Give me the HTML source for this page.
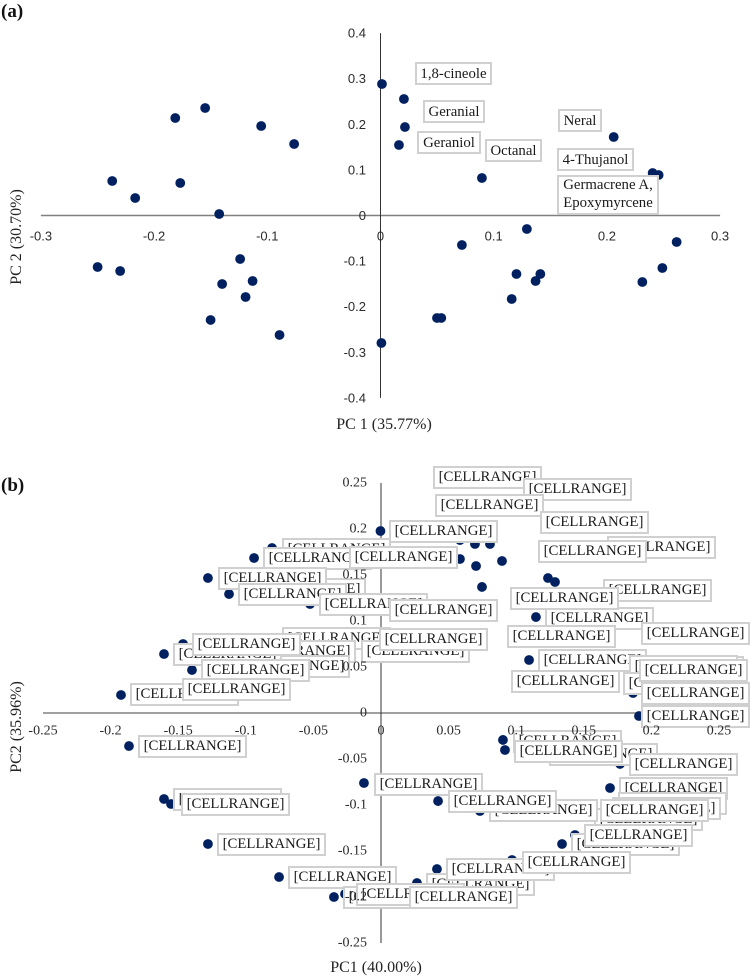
<!DOCTYPE html>
<html lang="en">
<head>
<meta charset="utf-8">
<title>PCA score plots</title>
<style>
html,body{margin:0;padding:0;background:#fff}
#page{position:relative;width:751px;height:977px;overflow:hidden;background:#fff;font-family:"Liberation Serif",serif}
svg{position:absolute;left:0;top:0}
#marks{z-index:1}
#labels{position:absolute;left:0;top:0;width:751px;height:977px;z-index:2}
#overlay{z-index:3}
.lb{position:absolute;box-sizing:border-box;width:109px;height:23px;background:#fff;border:2px solid #d0d0d0;font-size:14.8px;line-height:19px;text-align:center;color:#1a1a1a;white-space:nowrap;overflow:hidden}
.n{position:absolute;box-sizing:border-box;background:#fff;border:2px solid #d0d0d0;font-size:14.8px;line-height:20px;text-align:center;color:#1a1a1a;white-space:nowrap}
</style>
</head>
<body>
<div id="page">
<svg id="marks" width="751" height="977"></svg>
<div id="labels">
<div class="n" style="left:415px;top:62px;width:77px;height:23px">1,8-cineole</div>
<div class="n" style="left:423px;top:100px;width:62px;height:23px">Geranial</div>
<div class="n" style="left:417px;top:131px;width:64px;height:23px">Geraniol</div>
<div class="n" style="left:485px;top:139px;width:57px;height:23px">Octanal</div>
<div class="n" style="left:558px;top:109px;width:44px;height:23px">Neral</div>
<div class="n" style="left:557px;top:148px;width:77px;height:23px">4-Thujanol</div>
<div class="n" style="left:557px;top:175px;width:102px;height:40px;line-height:17.5px">Germacrene A,<br>Epoxymyrcene</div>

<div class="lb" style="left:433px;top:466px">[CELLRANGE]</div>
<div class="lb" style="left:523px;top:478px">[CELLRANGE]</div>
<div class="lb" style="left:435px;top:494px">[CELLRANGE]</div>
<div class="lb" style="left:540px;top:511px">[CELLRANGE]</div>
<div class="lb" style="left:607px;top:536px">[CELLRANGE]</div>
<div class="lb" style="left:538px;top:540px">[CELLRANGE]</div>
<div class="lb" style="left:389px;top:520px">[CELLRANGE]</div>
<div class="lb" style="left:282px;top:538px">[CELLRANGE]</div>
<div class="lb" style="left:263px;top:547px">[CELLRANGE]</div>
<div class="lb" style="left:349px;top:546px">[CELLRANGE]</div>
<div class="lb" style="left:257px;top:578px">[CELLRANGE]</div>
<div class="lb" style="left:218px;top:567px">[CELLRANGE]</div>
<div class="lb" style="left:238px;top:583px">[CELLRANGE]</div>
<div class="lb" style="left:319px;top:593px">[CELLRANGE]</div>
<div class="lb" style="left:389px;top:599px">[CELLRANGE]</div>
<div class="lb" style="left:282px;top:627px">[CELLRANGE]</div>
<div class="lb" style="left:361px;top:640px">[CELLRANGE]</div>
<div class="lb" style="left:379px;top:628px">[CELLRANGE]</div>
<div class="lb" style="left:603px;top:579px">[CELLRANGE]</div>
<div class="lb" style="left:545px;top:607px">[CELLRANGE]</div>
<div class="lb" style="left:510px;top:587px">[CELLRANGE]</div>
<div class="lb" style="left:641px;top:622px">[CELLRANGE]</div>
<div class="lb" style="left:507px;top:625px">[CELLRANGE]</div>
<div class="lb" style="left:538px;top:649px">[CELLRANGE]</div>
<div class="lb" style="left:635px;top:656px">[CELLRANGE]</div>
<div class="lb" style="left:629px;top:655px">[CELLRANGE]</div>
<div class="lb" style="left:623px;top:672px">[CELLRANGE]</div>
<div class="lb" style="left:511px;top:670px">[CELLRANGE]</div>
<div class="lb" style="left:639px;top:659px">[CELLRANGE]</div>
<div class="lb" style="left:641px;top:682px">[CELLRANGE]</div>
<div class="lb" style="left:641px;top:705px">[CELLRANGE]</div>
<div class="lb" style="left:247px;top:640px">[CELLRANGE]</div>
<div class="lb" style="left:241px;top:655px">[CELLRANGE]</div>
<div class="lb" style="left:173px;top:643px">[CELLRANGE]</div>
<div class="lb" style="left:192px;top:633px">[CELLRANGE]</div>
<div class="lb" style="left:201px;top:659px">[CELLRANGE]</div>
<div class="lb" style="left:130px;top:683px">[CELLRANGE]</div>
<div class="lb" style="left:182px;top:678px">[CELLRANGE]</div>
<div class="lb" style="left:138px;top:735px">[CELLRANGE]</div>
<div class="lb" style="left:173px;top:788px">[CELLRANGE]</div>
<div class="lb" style="left:181px;top:793px">[CELLRANGE]</div>
<div class="lb" style="left:217px;top:833px">[CELLRANGE]</div>
<div class="lb" style="left:549px;top:743px">[CELLRANGE]</div>
<div class="lb" style="left:513px;top:730px">[CELLRANGE]</div>
<div class="lb" style="left:514px;top:740px">[CELLRANGE]</div>
<div class="lb" style="left:629px;top:753px">[CELLRANGE]</div>
<div class="lb" style="left:619px;top:777px">[CELLRANGE]</div>
<div class="lb" style="left:618px;top:792px">[CELLRANGE]</div>
<div class="lb" style="left:612px;top:797px">[CELLRANGE]</div>
<div class="lb" style="left:594px;top:808px">[CELLRANGE]</div>
<div class="lb" style="left:600px;top:799px">[CELLRANGE]</div>
<div class="lb" style="left:571px;top:833px">[CELLRANGE]</div>
<div class="lb" style="left:584px;top:824px">[CELLRANGE]</div>
<div class="lb" style="left:374px;top:773px">[CELLRANGE]</div>
<div class="lb" style="left:489px;top:799px">[CELLRANGE]</div>
<div class="lb" style="left:448px;top:790px">[CELLRANGE]</div>
<div class="lb" style="left:426px;top:873px">[CELLRANGE]</div>
<div class="lb" style="left:446px;top:858px">[CELLRANGE]</div>
<div class="lb" style="left:522px;top:851px">[CELLRANGE]</div>
<div class="lb" style="left:288px;top:866px">[CELLRANGE]</div>
<div class="lb" style="left:343px;top:886px">[CELLRANGE]</div>
<div class="lb" style="left:356px;top:883px">[CELLRANGE]</div>
<div class="lb" style="left:409px;top:886px">[CELLRANGE]</div>
</div>
<svg id="overlay" width="751" height="977">
<text x="1" y="17" font-family="Liberation Serif" font-size="19" font-weight="bold" fill="#111">(a)</text>
<text x="1" y="491" font-family="Liberation Serif" font-size="19" font-weight="bold" fill="#111">(b)</text>
<text x="384" y="429" text-anchor="middle" font-family="Liberation Serif" font-size="16" fill="#222">PC 1 (35.77%)</text>
<text transform="translate(21,237) rotate(-90)" text-anchor="middle" font-family="Liberation Serif" font-size="16" fill="#222">PC 2 (30.70%)</text>
<text x="376" y="972" text-anchor="middle" font-family="Liberation Serif" font-size="16" fill="#222">PC1 (40.00%)</text>
<text transform="translate(21,727) rotate(-90)" text-anchor="middle" font-family="Liberation Serif" font-size="16" fill="#222">PC2 (35.96%)</text>
</svg>
</div>
<script>
const xTicksA = [-0.3, -0.2, -0.1, 0, 0.1, 0.2, 0.3];
const yTicksA = [0.4, 0.3, 0.2, 0.1, 0, -0.1, -0.2, -0.3, -0.4];
const pc1A = [-0.237, -0.2167, -0.1813, -0.1549, -0.1769, -0.1054, -0.0763, -0.1425, 0.0013, 0.0207, 0.0216, 0.0163, 0.0896, 0.206, 0.2404, 0.2457, 0.1293, 0.0719, 0.2616, -0.2499, -0.23, -0.124, -0.1399, -0.113, -0.1192, -0.1501, -0.0892, 0.0008, 0.0499, 0.0537, 0.1201, 0.1412, 0.137, 0.1159, 0.2313, 0.249];
const pc2A = [0.0757, 0.0384, 0.2138, 0.2357, 0.0713, 0.1963, 0.1568, 0.0033, 0.2884, 0.2555, 0.194, 0.1546, 0.0822, 0.1721, 0.0932, 0.0888, -0.0296, -0.0647, -0.0581, -0.1129, -0.1217, -0.0954, -0.1502, -0.1436, -0.1787, -0.2291, -0.262, -0.2796, -0.2247, -0.2247, -0.1283, -0.1283, -0.1436, -0.1831, -0.1458, -0.1151];
const xTicksB = [-0.25, -0.2, -0.15, -0.1, -0.05, 0, 0.05, 0.1, 0.15, 0.2, 0.25];
const yTicksB = [0.25, 0.2, 0.15, 0.1, 0.05, 0, -0.05, -0.1, -0.15, -0.2, -0.25];
const pc1B = [-0.1923, -0.1605, -0.1398, -0.1464, -0.128, -0.1124, -0.0939, -0.0806, -0.0525, -0.0004, 0.0584, 0.0695, 0.0806, 0.0584, 0.0703, 0.0895, 0.0747, 0.1235, 0.1287, 0.1146, 0.1095, 0.1864, 0.1908, 0.0902, 0.0917, 0.1768, 0.1694, 0.0422, 0.0732, 0.1435, 0.1339, 0.0969, 0.0414, 0.0266, -0.1864, -0.1605, -0.1553, -0.128, -0.0754, -0.0126, -0.0348, -0.0266];
const pc2B = [0.0196, 0.0641, 0.0467, 0.075, 0.1467, 0.1293, 0.1685, 0.1793, 0.1185, 0.1978, 0.188, 0.1837, 0.1837, 0.1674, 0.1598, 0.1652, 0.137, 0.1467, 0.1424, 0.1043, 0.0576, 0.0217, -0.0033, -0.0293, -0.0402, -0.0554, -0.0815, -0.0957, -0.1065, -0.1326, -0.1424, -0.1598, -0.1696, -0.1848, -0.0359, -0.0935, -0.0989, -0.1424, -0.1783, -0.0761, -0.2, -0.1967];

const NS = 'http://www.w3.org/2000/svg';
const marks = document.getElementById('marks');
const overlay = document.getElementById('overlay');

function xA(v) { return 380.5 + v * 1132; }
function yA(v) { return 215.5 - v * 456; }
function xB(v) { return 381 + v * 1352; }
function yB(v) { return 713 - v * 920; }

function makeLine(x1, y1, x2, y2, color, width, name) {
  const el = document.createElementNS(NS, 'line');
  el.setAttribute('x1', x1);
  el.setAttribute('y1', y1);
  el.setAttribute('x2', x2);
  el.setAttribute('y2', y2);
  el.setAttribute('stroke', color);
  el.setAttribute('stroke-width', width);
  
  
  marks.appendChild(el);
}

function makeDots(xs, ys, fx, fy, name) {
  xs.forEach(function (v, i) {
    const el = document.createElementNS(NS, 'circle');
    el.setAttribute('cx', fx(v));
    el.setAttribute('cy', fy(ys[i]));
    el.setAttribute('r', 4.9);
    el.setAttribute('fill', '#002060');
    
    
    marks.appendChild(el);
  });
}

function makeTick(x, y, str, anchor, family, size, name) {
  const el = document.createElementNS(NS, 'text');
  el.setAttribute('x', x);
  el.setAttribute('y', y);
  el.setAttribute('text-anchor', anchor);
  el.setAttribute('dominant-baseline', 'central');
  el.setAttribute('font-family', family);
  el.setAttribute('font-size', size);
  el.setAttribute('fill', '#2b2b2b');
  
  
  el.textContent = str;
  overlay.appendChild(el);
}

makeLine(xA(-0.3), yA(0), xA(0.3), yA(0), '#808080', 1.6, 'x-axis-line-a');
makeLine(xA(0), yA(0.4), xA(0), yA(-0.4), '#333333', 1, 'y-axis-line-a');
makeDots(pc1A, pc2A, xA, yA, 'point-a');
xTicksA.forEach(function (t) {
  makeTick(xA(t), 236, String(t), 'middle', 'Liberation Sans', 13, 'x-tick-a');
});
yTicksA.forEach(function (t) {
  makeTick(366, yA(t), String(t), 'end', 'Liberation Sans', 13, 'y-tick-a');
});

makeLine(xB(-0.25), yB(0), xB(0.25), yB(0), '#808080', 1.6, 'x-axis-line-b');
makeLine(xB(0), yB(0.25), xB(0), yB(-0.25), '#333333', 1, 'y-axis-line-b');
makeDots(pc1B, pc2B, xB, yB, 'point-b');
xTicksB.forEach(function (t) {
  makeTick(xB(t), 731, String(t), 'middle', 'Liberation Serif', 14, 'x-tick-b');
});
yTicksB.forEach(function (t) {
  makeTick(367, yB(t), String(t), 'end', 'Liberation Serif', 14, 'y-tick-b');
});
</script>
</body>
</html>
